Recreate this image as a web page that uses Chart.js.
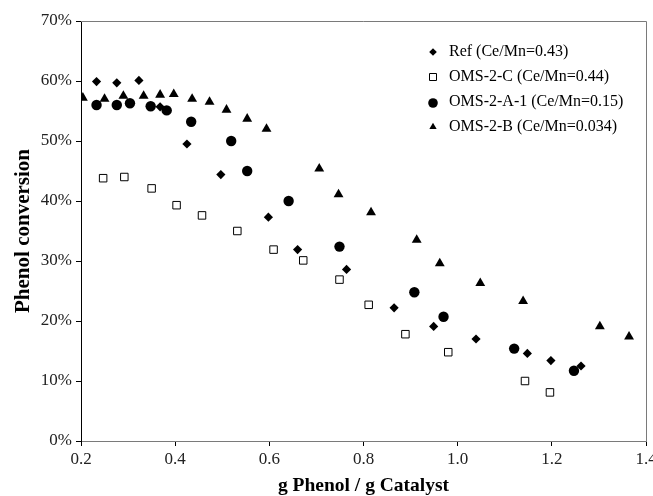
<!DOCTYPE html>
<html><head><meta charset="utf-8">
<script src="https://cdn.jsdelivr.net/npm/chart.js@4/dist/chart.umd.min.js"></script>
<style>html,body{margin:0;padding:0;background:#fff}canvas{display:block}</style>
</head><body>
<canvas id="c" width="653" height="496"></canvas>
<script>
// ---- data ----
const seriesNames = ['Ref (Ce/Mn=0.43)', 'OMS-2-C (Ce/Mn=0.44)', 'OMS-2-A-1 (Ce/Mn=0.15)', 'OMS-2-B (Ce/Mn=0.034)'];

const refX = [0.233, 0.276, 0.323, 0.368, 0.425, 0.497, 0.598, 0.660, 0.764, 0.865, 0.949, 1.039, 1.148, 1.198, 1.262];
const refY = [59.9, 59.7, 60.1, 55.7, 49.5, 44.4, 37.3, 31.9, 28.6, 22.2, 19.1, 17.0, 14.6, 13.4, 12.5];

const omsCX = [0.247, 0.292, 0.350, 0.403, 0.457, 0.532, 0.609, 0.672, 0.749, 0.811, 0.889, 0.980, 1.143, 1.196];
const omsCY = [43.8, 44.0, 42.1, 39.3, 37.6, 35.0, 31.9, 30.1, 26.9, 22.7, 17.8, 14.8, 10.0, 8.1];

const omsA1X = [0.233, 0.276, 0.304, 0.348, 0.382, 0.434, 0.519, 0.553, 0.641, 0.749, 0.908, 0.970, 1.120, 1.247];
const omsA1Y = [56.0, 56.0, 56.3, 55.8, 55.1, 53.2, 50.0, 45.0, 40.0, 32.4, 24.8, 20.7, 15.4, 11.7];

const omsBX = [0.204, 0.250, 0.290, 0.333, 0.368, 0.397, 0.436, 0.473, 0.509, 0.553, 0.594, 0.706, 0.747, 0.816, 0.913, 0.962, 1.048, 1.139, 1.302, 1.364];
const omsBY = [57.2, 57.0, 57.5, 57.5, 57.7, 57.8, 57.0, 56.5, 55.2, 53.7, 52.0, 45.4, 41.1, 38.1, 33.5, 29.6, 26.3, 23.3, 19.1, 17.4];

const xTicks = [0.2, 0.4, 0.6, 0.8, 1.0, 1.2, 1.4];
const yTicks = [0, 10, 20, 30, 40, 50, 60, 70];

const xTitle = 'g Phenol / g Catalyst';
const yTitle = 'Phenol conversion';

// ---- helpers ----
const pts = (xs, ys) => xs.map((x, i) => ({x: x, y: ys[i]}));
const SERIF = "'Liberation Serif', 'Times New Roman', serif";

const frame = {
  id: 'frame',
  beforeDatasetsDraw(chart) {
    const {ctx, chartArea: a} = chart;
    ctx.save();
    ctx.strokeStyle = '#7a7a7a';
    ctx.lineWidth = 1;
    ctx.beginPath();
    ctx.moveTo(a.left, a.top + 0.5);
    ctx.lineTo(a.right + 0.5, a.top + 0.5);
    ctx.lineTo(a.right + 0.5, a.bottom);
    ctx.stroke();
    ctx.restore();
  }
};

const customLegend = {
  id: 'customLegend',
  afterDraw(chart) {
    const ctx = chart.ctx;
    const mx = 433, tx = 449, y0 = 52, dy = 25;
    ctx.save();
    ctx.font = '16px ' + SERIF;
    ctx.textBaseline = 'middle';
    ctx.textAlign = 'left';
    chart.data.datasets.forEach((ds, i) => {
      const y = y0 + i * dy;
      ctx.fillStyle = '#000';
      ctx.strokeStyle = '#000';
      ctx.lineWidth = 1;
      ctx.beginPath();
      if (ds.pointStyle === 'rectRot') {
        const r = 3.8;
        ctx.moveTo(mx - r, y); ctx.lineTo(mx, y - r); ctx.lineTo(mx + r, y); ctx.lineTo(mx, y + r); ctx.closePath(); ctx.fill();
      } else if (ds.pointStyle === 'rect') {
        ctx.fillStyle = '#fff';
        ctx.rect(mx - 3.5, y - 3.5, 7, 7); ctx.fill(); ctx.stroke();
      } else if (ds.pointStyle === 'circle') {
        ctx.arc(mx, y + 1, 4.8, 0, Math.PI * 2); ctx.fill();
      } else {
        const r = 4.2;
        ctx.moveTo(mx, y - r); ctx.lineTo(mx + r * 0.87, y + r * 0.5); ctx.lineTo(mx - r * 0.87, y + r * 0.5); ctx.closePath(); ctx.fill();
      }
      ctx.fillStyle = '#000';
      ctx.fillText(seriesNames[i], tx, y);
    });
    ctx.restore();
  }
};

new Chart(document.getElementById('c'), {
  type: 'scatter',
  data: {
    datasets: [
      {label: seriesNames[0], data: pts(refX, refY), pointStyle: 'rectRot', pointRadius: 4.6, backgroundColor: '#000', borderColor: '#000', borderWidth: 0},
      {label: seriesNames[1], data: pts(omsCX, omsCY), pointStyle: 'rect', pointRadius: 5.3, backgroundColor: '#fff', borderColor: '#000', borderWidth: 1},
      {label: seriesNames[2], data: pts(omsA1X, omsA1Y), pointStyle: 'circle', pointRadius: 5.2, backgroundColor: '#000', borderColor: '#000', borderWidth: 0},
      {label: seriesNames[3], data: pts(omsBX, omsBY), pointStyle: 'triangle', pointRadius: 5.7, backgroundColor: '#000', borderColor: '#000', borderWidth: 0}
    ]
  },
  options: {
    responsive: false,
    animation: false,
    devicePixelRatio: 1,
    layout: {padding: {top: 21, right: 7, left: 0, bottom: 0}},
    plugins: {legend: {display: false}, tooltip: {enabled: false}},
    scales: {
      x: {
        type: 'linear', position: 'bottom', min: 0.2, max: 1.4,
        afterBuildTicks: s => { s.ticks = xTicks.map(v => ({value: v})); },
        afterFit: s => { s.height = 55; s.paddingLeft = 0; s.paddingRight = 0; },
        border: {display: true, color: '#7a7a7a', width: 1},
        grid: {display: true, drawOnChartArea: false, drawTicks: true, tickLength: 5, color: '#000'},
        ticks: {color: '#222', font: {family: SERIF, size: 17}, padding: 3, maxRotation: 0, autoSkip: false,
                callback: v => Number(v).toFixed(1)},
        title: {display: true, text: xTitle, color: '#000', font: {family: SERIF, size: 19.5, weight: 'bold', lineHeight: 1}, padding: {top: 0, bottom: 0}}
      },
      y: {
        type: 'linear', position: 'left', min: 0, max: 70,
        afterBuildTicks: s => { s.ticks = yTicks.map(v => ({value: v})); },
        afterFit: s => { s.width = 81; s.paddingTop = 0; s.paddingBottom = 0; },
        border: {display: true, color: '#000', width: 1},
        grid: {display: true, drawOnChartArea: false, drawTicks: true, tickLength: 5, color: '#000'},
        ticks: {color: '#222', font: {family: SERIF, size: 17}, padding: 4, autoSkip: false,
                callback: v => v + '%'},
        title: {display: true, text: yTitle, color: '#000', font: {family: SERIF, size: 21, weight: 'bold', lineHeight: 1}, padding: {top: 13, bottom: 0}}
      }
    }
  },
  plugins: [frame, customLegend]
});
</script>
</body></html>
